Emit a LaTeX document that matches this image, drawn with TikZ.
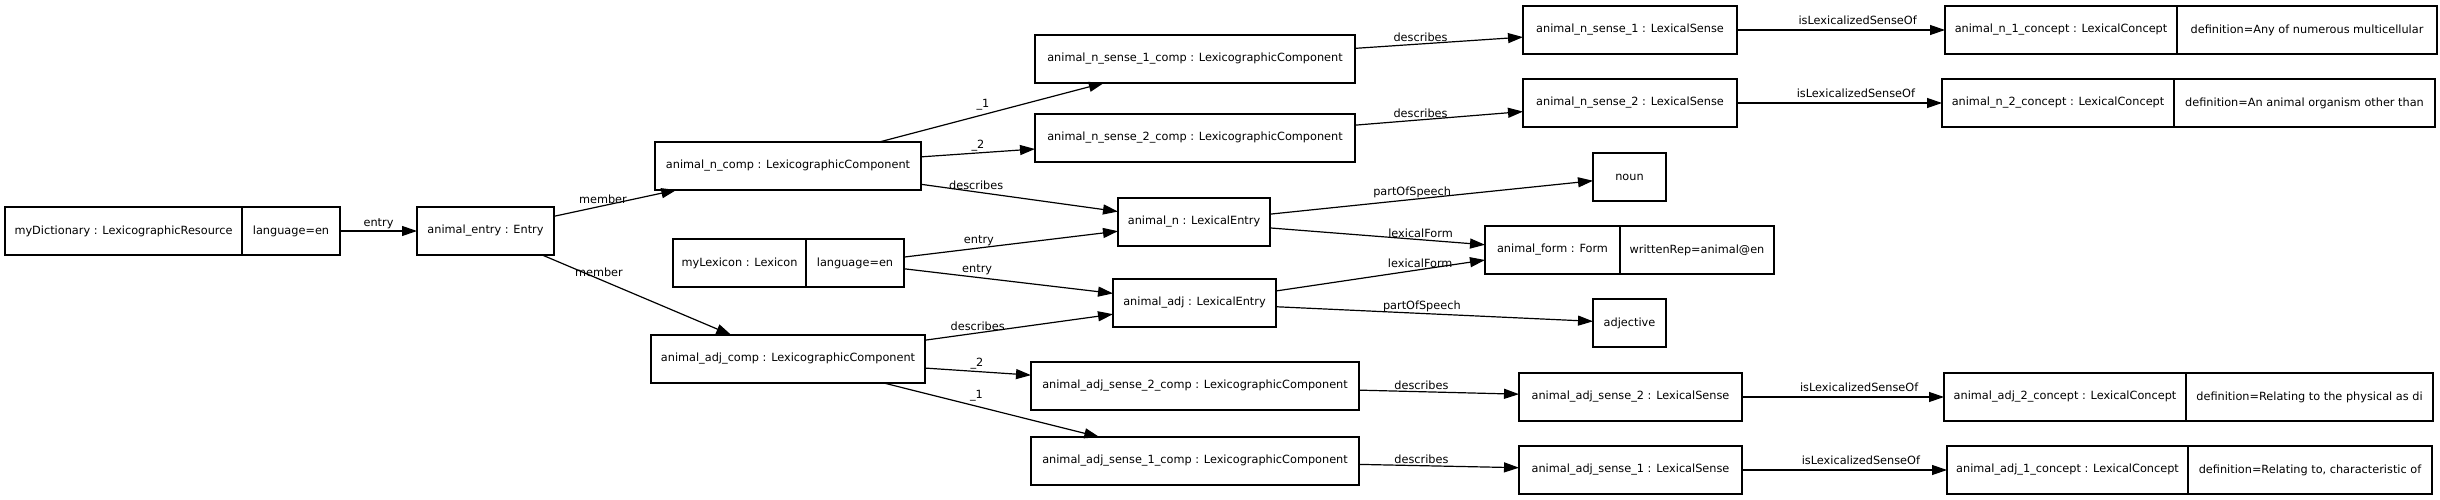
\documentclass[tikz,border=0pt]{standalone}
\usepackage{fontspec}
\setmainfont{DejaVu Sans}
\usetikzlibrary{arrows.meta}
\newcommand\dfont{\fontsize{11.3}{13}\selectfont}
\tikzset{
  box/.style={draw, line width=1.2pt, minimum height=48pt, inner sep=0pt, outer sep=0pt, font=\dfont},
  boxr/.style={box, anchor=west},
  conn/.style={-{Triangle[length=15pt,width=10pt]}, line width=1.2pt},
  lbl/.style={font=\dfont, inner sep=1.5pt, above}
}
\begin{document}
\begin{tikzpicture}[x=1pt,y=-1pt]
\fill[white] (0,0) rectangle (2440,500);
\useasboundingbox (0,0) rectangle (2440,500);
% nodes
\node[box, minimum width=237pt] (dictA) at (123.5,231) {myDictionary : LexicographicResource};
\node[boxr, minimum width=98pt] (dictB) at (dictA.east) {language=en};
\node[box, minimum width=137pt] (entry) at (485.5,231) {animal\_entry : Entry};
\node[box, minimum width=266pt] (ncomp) at (788,166) {animal\_n\_comp : LexicographicComponent};
\node[box, minimum width=274pt] (adjcomp) at (788,359) {animal\_adj\_comp : LexicographicComponent};
\node[box, minimum width=133pt] (lexA) at (739.5,263) {myLexicon : Lexicon};
\node[boxr, minimum width=98pt] (lexB) at (lexA.east) {language=en};
\node[box, minimum width=320pt] (ns1comp) at (1195,59) {animal\_n\_sense\_1\_comp : LexicographicComponent};
\node[box, minimum width=320pt] (ns2comp) at (1195,138) {animal\_n\_sense\_2\_comp : LexicographicComponent};
\node[box, minimum width=152pt] (animaln) at (1194,222) {animal\_n : LexicalEntry};
\node[box, minimum width=163pt] (animaladj) at (1194.5,303) {animal\_adj : LexicalEntry};
\node[box, minimum width=73pt] (noun) at (1629.5,177) {noun};
\node[box, minimum width=73pt] (adjective) at (1629.5,323) {adjective};
\node[box, minimum width=135pt] (formA) at (1552.5,250) {animal\_form : Form};
\node[boxr, minimum width=154pt] (formB) at (formA.east) {writtenRep=animal@en};
\node[box, minimum width=214pt] (ns1) at (1630,30) {animal\_n\_sense\_1 : LexicalSense};
\node[box, minimum width=214pt] (ns2) at (1630,103) {animal\_n\_sense\_2 : LexicalSense};
\node[box, minimum width=232pt] (n1cA) at (2061,30) {animal\_n\_1\_concept : LexicalConcept};
\node[boxr, minimum width=260pt] (n1cB) at (n1cA.east) {definition=Any of numerous multicellular};
\node[box, minimum width=232pt] (n2cA) at (2058,103) {animal\_n\_2\_concept : LexicalConcept};
\node[boxr, minimum width=261pt] (n2cB) at (n2cA.east) {definition=An animal organism other than};
\node[box, minimum width=328pt] (as2comp) at (1195,386) {animal\_adj\_sense\_2\_comp : LexicographicComponent};
\node[box, minimum width=328pt] (as1comp) at (1195,461) {animal\_adj\_sense\_1\_comp : LexicographicComponent};
\node[box, minimum width=223pt] (as2) at (1630.5,397) {animal\_adj\_sense\_2 : LexicalSense};
\node[box, minimum width=223pt] (as1) at (1630.5,470) {animal\_adj\_sense\_1 : LexicalSense};
\node[box, minimum width=242pt] (a2cA) at (2065,397) {animal\_adj\_2\_concept : LexicalConcept};
\node[boxr, minimum width=247pt] (a2cB) at (a2cA.east) {definition=Relating to the physical as di};
\node[box, minimum width=241pt] (a1cA) at (2067.5,470) {animal\_adj\_1\_concept : LexicalConcept};
\node[boxr, minimum width=244pt] (a1cB) at (a1cA.east) {definition=Relating to, characteristic of};
% connectors
\draw[conn] (dictB) -- node[lbl, pos=0.5] {entry} (entry);
\draw[conn] (entry) -- node[lbl, pos=0.4] {member} (ncomp);
\draw[conn] (entry) -- node[lbl, pos=0.3] {member} (adjcomp);
\draw[conn] (ncomp) -- node[lbl, pos=0.5, anchor=south east] {\_1} (ns1comp);
\draw[conn] (ncomp) -- node[lbl, pos=0.5] {\_2} (ns2comp);
\draw[conn] (ncomp) -- node[lbl, pos=0.28] {describes} (animaln);
\draw[conn] (ns1comp) -- node[lbl, pos=0.39] {describes} (ns1);
\draw[conn] (ns2comp) -- node[lbl, pos=0.39] {describes} (ns2);
\draw[conn] (ns1) -- node[lbl, pos=0.58, yshift=3pt] {isLexicalizedSenseOf} (n1cA);
\draw[conn] (ns2) -- node[lbl, pos=0.58, yshift=3pt] {isLexicalizedSenseOf} (n2cA);
\draw[conn] (animaln) -- node[lbl, pos=0.44] {partOfSpeech} (noun);
\draw[conn] (animaln) -- node[lbl, pos=0.7] {lexicalForm} (formA);
\draw[conn] (lexB) -- node[lbl, pos=0.35] {entry} (animaln);
\draw[conn] (lexB) -- node[lbl, pos=0.35] {entry} (animaladj);
\draw[conn] (adjcomp) -- node[lbl, pos=0.28] {describes} (animaladj);
\draw[conn] (animaladj) -- node[lbl, pos=0.69] {lexicalForm} (formA);
\draw[conn] (animaladj) -- node[lbl, pos=0.46] {partOfSpeech} (adjective);
\draw[conn] (adjcomp) -- node[lbl, pos=0.49] {\_2} (as2comp);
\draw[conn] (adjcomp) -- node[lbl, pos=0.43, yshift=3pt] {\_1} (as1comp);
\draw[conn] (as2comp) -- node[lbl, pos=0.39] {describes} (as2);
\draw[conn] (as1comp) -- node[lbl, pos=0.39] {describes} (as1);
\draw[conn] (as2) -- node[lbl, pos=0.58, yshift=3pt] {isLexicalizedSenseOf} (a2cA);
\draw[conn] (as1) -- node[lbl, pos=0.58, yshift=3pt] {isLexicalizedSenseOf} (a1cA);
\end{tikzpicture}
\end{document}
